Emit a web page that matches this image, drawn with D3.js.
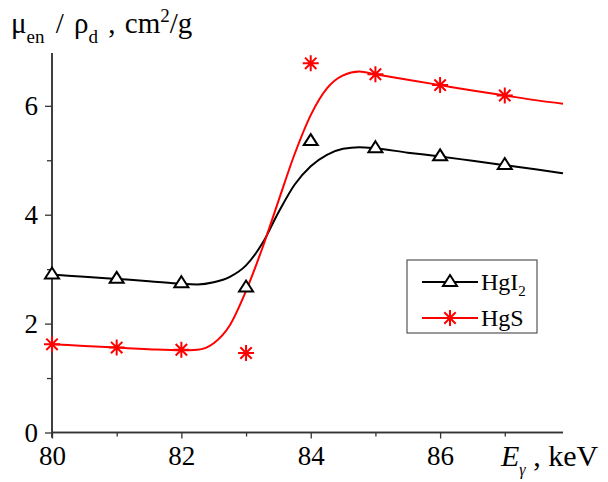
<!DOCTYPE html>
<html>
<head>
<meta charset="utf-8">
<script src="https://cdn.jsdelivr.net/npm/d3@7"></script>
<style>
  body { margin: 0; background: #fff; }
  svg text { font-family: "Liberation Serif", "Times New Roman", serif; }
</style>
</head>
<body>
<svg id="chart" width="608" height="482"></svg>
<script>
// measured points
const energies = [80, 81, 82, 83, 84, 85, 86, 87];
const hgi2 = [2.92, 2.84, 2.76, 2.68, 5.37, 5.24, 5.09, 4.93];
const hgs = [1.62, 1.56, 1.52, 1.46, 6.78, 6.58, 6.38, 6.19];

// fitted curves
const fitX = [80, 80.5, 81, 81.5, 82, 82.25, 82.5, 82.75, 83, 83.25, 83.5, 83.75, 84, 84.25, 84.5, 84.75, 85, 85.5, 86, 86.5, 87, 87.5, 87.9];
const fitHgI2 = [2.90, 2.86, 2.82, 2.78, 2.73, 2.72, 2.76, 2.86, 3.07, 3.47, 4.04, 4.55, 4.89, 5.10, 5.21, 5.24, 5.22, 5.14, 5.07, 4.99, 4.91, 4.83, 4.76];
const fitHgS = [1.62, 1.59, 1.56, 1.53, 1.51, 1.52, 1.64, 1.97, 2.60, 3.38, 4.25, 5.11, 5.83, 6.32, 6.56, 6.63, 6.58, 6.48, 6.38, 6.28, 6.19, 6.10, 6.04];

const xMajor = [80, 82, 84, 86];
const xMinor = [81, 83, 85, 87];
const yMajor = [0, 2, 4, 6];
const yMinor = [1, 3, 5];

const width = 608;
const height = 482;
const mLeft = 52, mRight = 563, mTop = 53, mBottom = 432.5;

const svg = d3.select("#chart");

const x = d3.scaleLinear().domain([80, 87.9]).range([mLeft, mRight]);
const y = d3.scaleLinear().domain([0, 6.97]).range([mBottom, mTop]);

const axisColor = "#333";

// x axis
const xAxis = svg.append("g").attr("transform", `translate(0,${mBottom})`);
xAxis.call(d3.axisBottom(x).tickValues(xMajor).tickSize(6).tickPadding(9).tickFormat(d3.format("d")));
xAxis.append("g").call(d3.axisBottom(x).tickValues(xMinor).tickSize(4).tickFormat(""));
xAxis.selectAll(".domain").attr("stroke", axisColor).attr("stroke-width", 1.5).attr("d", `M${mLeft},0H${mRight}`);
xAxis.selectAll(".tick line").attr("stroke", axisColor).attr("stroke-width", 1.3);
xAxis.selectAll(".tick text").attr("font-size", 27).attr("fill", "#000").attr("dy", "0.63em");

// y axis
const yAxis = svg.append("g").attr("transform", `translate(${mLeft},0)`);
yAxis.call(d3.axisLeft(y).tickValues(yMajor).tickSize(7).tickPadding(7).tickFormat(d3.format("d")));
yAxis.append("g").call(d3.axisLeft(y).tickValues(yMinor).tickSize(5).tickFormat(""));
yAxis.selectAll(".domain").attr("stroke", axisColor).attr("stroke-width", 1.5).attr("d", `M0,${mTop}V${mBottom + 5}`);
yAxis.selectAll(".tick line").attr("stroke", axisColor).attr("stroke-width", 1.3);
yAxis.selectAll(".tick text").attr("font-size", 27).attr("fill", "#000").attr("dy", "0.33em");

// fitted lines
const line = d3.line().x(d => x(d[0])).y(d => y(d[1])).curve(d3.curveMonotoneX);

const plot = svg.append("g");
plot.append("path").datum(d3.zip(fitX, fitHgI2))
  .attr("d", line).attr("fill", "none").attr("stroke", "#000").attr("stroke-width", 2);
plot.append("path").datum(d3.zip(fitX, fitHgS))
  .attr("d", line).attr("fill", "none").attr("stroke", "#ff0000").attr("stroke-width", 2);

// markers
const triPath = "M0,-6L7,5H-7Z";
const starPath = "M0,-8V8M-8,0H8M-5.7,-5.7L5.7,5.7M-5.7,5.7L5.7,-5.7";

function drawTriangle(g, cx, cy) {
  g.append("path").attr("d", triPath).attr("transform", `translate(${cx},${cy})`)
    .attr("fill", "#fff").attr("stroke", "#000").attr("stroke-width", 2);
}
function drawStar(g, cx, cy) {
  g.append("path").attr("d", starPath).attr("transform", `translate(${cx},${cy})`)
    .attr("fill", "none").attr("stroke", "#ff0000").attr("stroke-width", 2);
}

energies.forEach((e, i) => {
  drawTriangle(plot, x(e), y(hgi2[i]));
  drawStar(plot, x(e), y(hgs[i]));
});

// legend
const legend = svg.append("g").attr("transform", "translate(407,260)");
legend.append("rect").attr("width", 130).attr("height", 73)
  .attr("fill", "#fff").attr("stroke", "#555").attr("stroke-width", 1.2);

legend.append("line").attr("x1", 15).attr("x2", 71).attr("y1", 22).attr("y2", 22)
  .attr("stroke", "#000").attr("stroke-width", 2);
drawTriangle(legend, 43, 21);
const t1 = legend.append("text").attr("x", 74).attr("y", 30).attr("font-size", 24);
t1.append("tspan").text("HgI");
t1.append("tspan").attr("font-size", 15).attr("dy", 6).text("2");

legend.append("line").attr("x1", 15).attr("x2", 71).attr("y1", 58).attr("y2", 58)
  .attr("stroke", "#ff0000").attr("stroke-width", 2);
drawStar(legend, 43, 58);
legend.append("text").attr("x", 74).attr("y", 66).attr("font-size", 24).text("HgS");

// y axis title
const yt = svg.append("text").attr("x", 11).attr("y", 33).attr("font-size", 29).attr("fill", "#000");
yt.append("tspan").text("μ");
yt.append("tspan").attr("font-size", 19).attr("dy", 10).text("en");
yt.append("tspan").attr("dy", -10).attr("dx", 4).text(" / ");
yt.append("tspan").attr("dx", 3).text("ρ");
yt.append("tspan").attr("font-size", 19).attr("dy", 10).text("d");
yt.append("tspan").attr("dy", -10).attr("dx", 3).text(" , ");
yt.append("tspan").attr("dx", 2).text("cm");
yt.append("tspan").attr("font-size", 19).attr("dy", -11).text("2");
yt.append("tspan").attr("dy", 11).text("/g");

// x axis title
const xt = svg.append("text").attr("x", 501).attr("y", 466).attr("font-size", 30).attr("fill", "#000");
xt.append("tspan").attr("font-style", "italic").text("E");
xt.append("tspan").attr("font-style", "italic").attr("font-size", 16).attr("dy", 9).text("γ");
xt.append("tspan").attr("dy", -9).text(" , keV");
</script>
</body>
</html>
